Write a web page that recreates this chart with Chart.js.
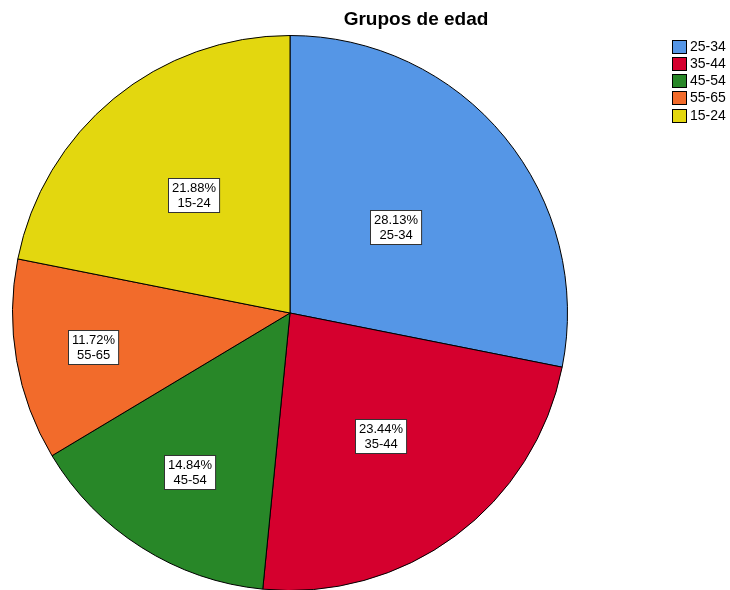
<!DOCTYPE html>
<html>
<head>
<meta charset="utf-8">
<script src="https://cdn.jsdelivr.net/npm/chart.js@4/dist/chart.umd.min.js"></script>
<style>
  html, body { margin: 0; padding: 0; background: #fff; }
  #caja { width: 730px; height: 590px; overflow: hidden; position: relative; }
</style>
</head>
<body>
<div id="caja"><canvas id="grafico" width="730" height="600"></canvas></div>
<script>
const titulo = 'Grupos de edad';
const categorias = ['25-34', '35-44', '45-54', '55-65', '15-24'];
const porcentajes = [28.13, 23.44, 14.84, 11.72, 21.88];
const colores = ['#5596E6', '#D5002E', '#288728', '#F26B2B', '#E3D70F'];
// distancia de cada etiqueta al centro (fraccion del radio)
const posEtiqueta = [0.49, 0.55, 0.68, 0.72, 0.55];

const fuente = '"Liberation Sans", Arial, sans-serif';

const etiquetas = {
  id: 'etiquetas',
  afterDatasetsDraw(chart) {
    const ctx = chart.ctx;
    const meta = chart.getDatasetMeta(0);
    ctx.save();
    ctx.font = '13px ' + fuente;
    ctx.textAlign = 'center';
    ctx.textBaseline = 'middle';
    meta.data.forEach((arc, i) => {
      const p = arc.getProps(['x', 'y', 'startAngle', 'endAngle', 'outerRadius'], true);
      const mid = (p.startAngle + p.endAngle) / 2;
      const cx = p.x + Math.cos(mid) * p.outerRadius * posEtiqueta[i];
      const cy = p.y + Math.sin(mid) * p.outerRadius * posEtiqueta[i];
      const l1 = porcentajes[i].toFixed(2) + '%';
      const l2 = categorias[i];
      const w = Math.max(ctx.measureText(l1).width, ctx.measureText(l2).width) + 7;
      const h = 34;
      const bx = Math.round(cx - w / 2) + 0.5;
      const by = Math.round(cy - h / 2) + 0.5;
      ctx.fillStyle = '#fff';
      ctx.fillRect(bx, by, w, h);
      ctx.strokeStyle = '#333';
      ctx.lineWidth = 1;
      ctx.strokeRect(bx, by, w, h);
      ctx.fillStyle = '#000';
      ctx.fillText(l1, bx + w / 2, by + h / 2 - 7);
      ctx.fillText(l2, bx + w / 2, by + h / 2 + 8);
    });
    ctx.restore();
  },
  afterDraw(chart) {
    const ctx = chart.ctx;
    ctx.save();
    // titulo
    ctx.font = 'bold 19px ' + fuente;
    ctx.fillStyle = '#000';
    ctx.textAlign = 'center';
    ctx.textBaseline = 'middle';
    ctx.fillText(titulo, 416, 20);
    // leyenda
    ctx.font = '14px ' + fuente;
    ctx.textAlign = 'left';
    categorias.forEach((c, i) => {
      const y = 39.5 + i * 17.25;
      ctx.fillStyle = colores[i];
      ctx.fillRect(672.5, Math.round(y) + 0.5, 14, 13);
      ctx.strokeStyle = '#000';
      ctx.lineWidth = 1;
      ctx.strokeRect(672.5, Math.round(y) + 0.5, 14, 13);
      ctx.fillStyle = '#000';
      ctx.fillText(c, 690, Math.round(y) + 7.5);
    });
    ctx.restore();
  }
};

new Chart(grafico, {
  type: 'pie',
  data: {
    labels: categorias,
    datasets: [{
      data: porcentajes,
      backgroundColor: colores,
      borderColor: '#000',
      borderWidth: 1
    }]
  },
  options: {
    responsive: false,
    animation: false,
    devicePixelRatio: 1,
    layout: { padding: { left: 12, top: 35, right: 162, bottom: 9 } },
    plugins: {
      legend: { display: false },
      tooltip: { enabled: false },
      title: { display: false }
    }
  },
  plugins: [etiquetas]
});
</script>
</body>
</html>
